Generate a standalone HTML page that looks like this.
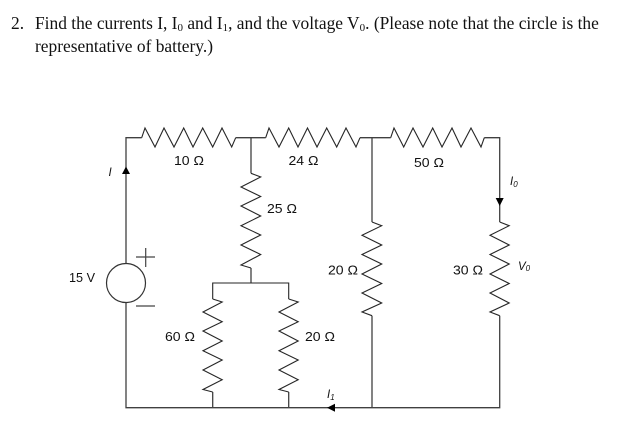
<!DOCTYPE html>
<html><head><meta charset="utf-8"><style>
html,body{margin:0;padding:0;background:#fff;width:623px;height:433px;overflow:hidden}
svg{display:block}
.t{font-family:"Liberation Serif",serif;font-size:17.4px;fill:#111}
.l{font-family:"Liberation Sans",sans-serif;font-size:13px;fill:#111}
.i{font-style:italic;font-size:11.500px}
.w{fill:none;stroke:#404040;stroke-width:1.3}
.k{fill:none;stroke:#262626;stroke-width:1.1}
</style></head><body>
<svg width="623" height="433" viewBox="0 0 623 433" xmlns="http://www.w3.org/2000/svg">
<text class="t" x="11" y="29">2.</text>
<text class="t" x="35" y="29">Find the currents I, I<tspan font-size="11" dy="2">0</tspan><tspan dy="-2"> and I</tspan><tspan font-size="11" dy="2">1</tspan><tspan dy="-2">, and the voltage V</tspan><tspan font-size="11" dy="2">0</tspan><tspan dy="-2">. (Please note that the circle is the</tspan></text>
<text class="t" x="35" y="52">representative of battery.)</text>

<path class="w" d="M126 263.500V137.700H141.700M235.700 137.700H265.700M360 137.700H390.700M484.300 137.700H499.700V222M251 137.700V173.300M372 137.700V222M126 302.500V407.700H499.700V315.700M372 315.700V407.700M212.700 392V407.700M288.700 392V407.700M251 268V283"/>
<path class="k" d="M212.700 299V283H288.700V299"/>

<path class="k" d="M141.700 137.700L145 128L155 147L164 128L174 147L183.700 128L193 147L202.700 128L212.700 147L222 128L231.700 147L235.700 137.700"/>
<path class="k" d="M265.700 137.700L269 128L279 147L288.700 128L298 147L307.500 128L317 147L326.700 128L336.700 147L346 128L356 147L360 137.700"/>
<path class="k" d="M390.700 137.700L394 128L403.700 147L413 128L423 147L432.700 128L442 147L452 128L461 147L471 128L481 147L484.300 137.700"/>

<path class="k" d="M251 173.300L260.700 177L241 187L260.700 196.500L241 206L260.700 216L241 225.700L260.700 235L241 245L260.700 254.500L241 265L251 268"/>
<path class="k" d="M372 222L381.700 225.700L362 235.300L381.700 245L362 254.500L381.700 264L362 274L381.700 283.500L362 293L381.700 303L362 312L372 315.700"/>
<path class="k" d="M499.700 222L509.200 225.700L490 235.300L509.200 245L490 254.500L509.200 264L490 274L509.200 283.500L490 293L509.200 303L490 312L499.700 315.700"/>
<path class="k" d="M212.700 299L222.200 302L203 312L222.200 321.700L203 331L222.200 341L203 350.700L222.200 360L203 370L222.200 379.700L203 389.500L212.700 392"/>
<path class="k" d="M288.700 299L298.200 302L279 312L298.200 321.700L279 331L298.200 341L279 350.700L298.200 360L279 370L298.200 379.700L279 389.500L288.700 392"/>

<circle cx="126" cy="283" r="19.500" fill="#fff" stroke="#333" stroke-width="1.2"/>
<path fill="none" stroke="#444" stroke-width="1.2" d="M136 257H155M145.700 248V267M136 306H155"/>

<path fill="#000" d="M126 166.500L130 174H122Z"/>
<path fill="#000" d="M499.700 206L495.700 198H503.700Z"/>
<path fill="#000" d="M327 407.700L335 403.700V411.700Z"/>

<text class="l" x="174" y="165" textLength="30" lengthAdjust="spacingAndGlyphs">10 Ω</text>
<text class="l" x="288.500" y="165" textLength="30" lengthAdjust="spacingAndGlyphs">24 Ω</text>
<text class="l" x="414" y="167" textLength="30" lengthAdjust="spacingAndGlyphs">50 Ω</text>
<text class="l" x="267" y="213" textLength="30" lengthAdjust="spacingAndGlyphs">25 Ω</text>
<text class="l" x="328" y="274.500" textLength="30" lengthAdjust="spacingAndGlyphs">20 Ω</text>
<text class="l" x="453" y="274.500" textLength="30" lengthAdjust="spacingAndGlyphs">30 Ω</text>
<text class="l" x="165" y="341" textLength="30" lengthAdjust="spacingAndGlyphs">60 Ω</text>
<text class="l" x="305" y="341" textLength="30" lengthAdjust="spacingAndGlyphs">20 Ω</text>
<text class="l" x="69" y="282" textLength="26" lengthAdjust="spacingAndGlyphs">15 V</text>
<text class="l i" x="108.500" y="176">I</text>
<text class="l i" x="510" y="185">I<tspan font-size="8" dy="2">0</tspan></text>
<text class="l i" x="518" y="270">V<tspan font-size="8" dy="1">0</tspan></text>
<text class="l i" x="327" y="398">I<tspan font-size="8" dy="2">1</tspan></text>
</svg>
</body></html>
